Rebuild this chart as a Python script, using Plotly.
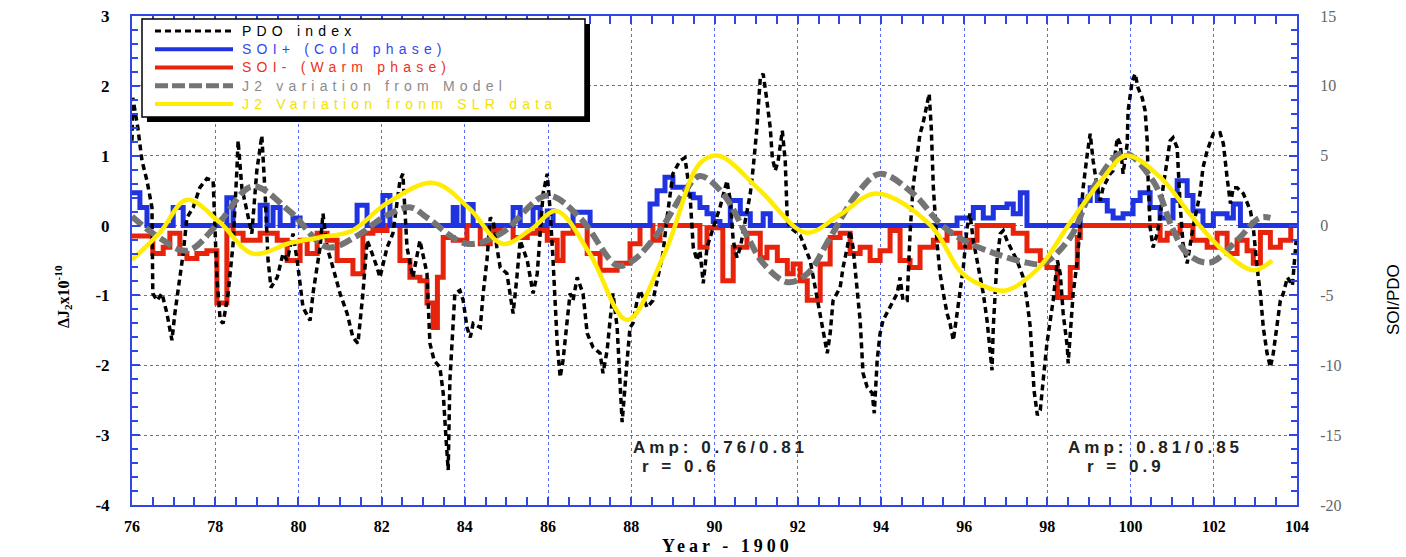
import plotly.graph_objects as go

# ---------------- data ----------------
# PDO index (SOI/PDO axis units)
pdo_year = [76.00, 76.02, 76.14, 76.24, 76.36, 76.48, 76.50, 76.60, 76.72, 76.84, 76.96, 77.03, 77.15, 77.23,
            77.32, 77.47, 77.63, 77.80, 77.95, 78.04, 78.12, 78.19, 78.31, 78.43, 78.52, 78.55, 78.64, 78.76,
            78.88, 79.00, 79.12, 79.20, 79.27, 79.34, 79.49, 79.63, 79.73, 79.87, 79.97, 80.11, 80.28, 80.35,
            80.52, 80.59, 80.69, 80.83, 81.00, 81.17, 81.31, 81.43, 81.55, 81.65, 81.72, 81.89, 81.96, 82.13,
            82.27, 82.44, 82.51, 82.61, 82.75, 82.92, 83.09, 83.16, 83.26, 83.40, 83.48, 83.55, 83.60, 83.64,
            83.72, 83.76, 83.88, 83.96, 84.05, 84.13, 84.20, 84.37, 84.44, 84.53, 84.61, 84.68, 84.77, 84.85,
            85.01, 85.09, 85.16, 85.25, 85.33, 85.50, 85.64, 85.74, 85.81, 85.88, 85.98, 86.05, 86.12, 86.22,
            86.29, 86.36, 86.46, 86.53, 86.60, 86.70, 86.84, 86.94, 87.08, 87.25, 87.32, 87.42, 87.49, 87.56,
            87.66, 87.73, 87.78, 87.90, 87.97, 88.04, 88.14, 88.21, 88.38, 88.52, 88.76, 88.86, 89.00, 89.17,
            89.29, 89.41, 89.49, 89.58, 89.65, 89.73, 89.82, 89.97, 90.13, 90.30, 90.38, 90.45, 90.54, 90.62,
            90.78, 90.86, 90.93, 91.02, 91.10, 91.17, 91.26, 91.34, 91.39, 91.46, 91.53, 91.63, 91.70, 91.75,
            91.82, 92.06, 92.30, 92.47, 92.54, 92.71, 92.78, 92.85, 93.02, 93.09, 93.19, 93.26, 93.33, 93.43,
            93.50, 93.57, 93.67, 93.79, 93.84, 93.91, 93.98, 94.05, 94.22, 94.39, 94.46, 94.53, 94.63, 94.70,
            94.77, 94.87, 94.94, 95.01, 95.11, 95.16, 95.21, 95.26, 95.35, 95.42, 95.50, 95.59, 95.66, 95.74,
            95.83, 95.90, 95.98, 96.07, 96.14, 96.22, 96.34, 96.46, 96.55, 96.62, 96.67, 96.70, 96.75, 96.79,
            96.87, 96.94, 97.03, 97.11, 97.27, 97.42, 97.51, 97.59, 97.64, 97.68, 97.76, 97.83, 97.90, 97.99,
            98.07, 98.14, 98.24, 98.31, 98.38, 98.48, 98.50, 98.55, 98.62, 98.72, 98.79, 98.86, 98.96, 99.03,
            99.10, 99.20, 99.27, 99.34, 99.51, 99.58, 99.68, 99.75, 99.82, 99.92, 99.94, 100.04, 100.11, 100.18,
            100.28, 100.35, 100.40, 100.42, 100.47, 100.52, 100.54, 100.64, 100.71, 100.78, 100.88, 100.95,
            101.02, 101.12, 101.19, 101.26, 101.36, 101.50, 101.67, 101.74, 101.84, 101.91, 101.99, 102.15,
            102.23, 102.32, 102.40, 102.47, 102.56, 102.71, 102.80, 102.88, 102.95, 103.04, 103.12, 103.19,
            103.28, 103.36, 103.43, 103.53, 103.60, 103.67, 103.77, 103.89, 103.98]
pdo_value = [6.07, 9.14, 7.0, 4.64, 3.21, 1.29, -4.86, -5.36, -4.86, -6.29, -8.21, -6.29, -3.71, -2.0,
             0.57, 1.29, 2.71, 3.36, 3.21, -3.71, -6.79, -7.0, -4.86, -1.29, 3.93, 6.07, 2.71, 1.07,
             -0.57, 3.93, 6.43, 2.29, -2.5, -4.43, -3.71, -2.0, -2.5, -0.57, -2.5, -5.86, -6.79, -4.86,
             -1.57, 0.86, -1.57, -3.0, -4.86, -6.29, -8.0, -8.43, -4.86, -1.07, -1.57, -3.0, -3.71, -1.57,
             -0.57, 3.21, 3.71, -1.57, -3.71, -1.07, -3.43, -8.43, -9.64, -10.14, -12.0, -15.36, -17.5, -11.07,
             -7.29, -4.86, -4.64, -5.36, -7.29, -8.0, -7.0, -7.29, -4.86, -2.5, 0.57, 0.36, -1.57, -3.0,
             -3.43, -4.86, -6.29, -3.71, -1.07, -2.5, -4.86, -3.43, -0.14, 2.29, 3.71, 1.07, -2.5, -8.43,
             -10.86, -9.64, -6.79, -4.86, -5.36, -3.71, -4.86, -7.71, -8.71, -9.14, -10.57, -8.93, -6.79, -4.86,
             -7.29, -12.0, -14.07, -9.64, -7.29, -7.0, -5.36, -4.64, -5.86, -5.36, -2.0, 0.57, 3.71, 4.64,
             4.86, 2.29, -1.57, -2.5, -1.79, -4.14, -1.57, -0.14, 1.29, 3.21, 1.79, -1.07, -2.29, -1.57,
             1.07, 2.29, 4.14, 7.0, 10.57, 10.86, 8.93, 7.0, 4.86, 3.93, 4.64, 6.79, 4.64, 0.36,
             -0.14, -0.71, -2.5, -5.36, -6.29, -9.14, -7.71, -5.36, -4.43, -3.0, -1.57, -0.36, -1.57, -4.43,
             -6.79, -10.57, -11.57, -12.0, -13.43, -9.64, -7.71, -6.79, -5.86, -4.86, -3.71, -5.36, -5.36, -0.57,
             2.71, 5.14, 6.57, 7.29, 8.71, 9.43, 7.0, 2.71, -1.29, -3.43, -4.86, -6.29, -7.0, -8.21,
             -6.29, -4.86, -3.0, -0.14, 0.86, -1.07, -3.0, -4.86, -6.79, -9.14, -10.36, -7.29, -4.86, -2.5,
             -0.57, -0.36, -1.07, -1.57, -2.5, -3.71, -5.36, -7.29, -9.64, -11.79, -13.57, -13.21, -11.07, -8.43,
             -6.79, -5.36, -2.5, -3.43, -6.29, -8.71, -9.86, -7.71, -4.86, -2.5, 0.36, 2.71, 5.14, 6.57,
             4.64, 2.71, 1.79, 2.71, 3.71, 3.93, 6.29, 5.86, 3.71, 5.86, 8.21, 10.36, 10.86, 9.86,
             9.14, 8.21, 6.07, 3.43, -0.14, -1.07, -1.57, -0.57, 0.57, 2.71, 4.64, 6.07,
             6.29, 5.57, 1.57, -1.29, -2.71, -0.14, 2.29, 4.14, 5.36, 5.86, 6.57, 6.64,
             5.86, 3.43, 1.57, 2.71, 2.71, 2.29, 1.57, 1.07, -0.14, -3.0, -4.86, -7.29,
             -9.14, -10.14, -9.14, -6.79, -5.36, -4.86, -3.71, -4.29, -1.07]

# SOI+ (cold phase), step series (SOI/PDO axis units)
soi_pos_year = [76.00, 76.19, 76.36, 76.99, 77.23, 78.28, 78.43, 79.08, 79.25, 79.39, 79.56, 79.87, 80.04,
                81.41, 81.65, 82.03, 82.20, 83.72, 83.81, 83.96, 84.20, 85.16, 85.33, 85.64, 85.81, 85.98,
                86.12, 86.60, 87.01, 88.45, 88.62, 88.81, 89.00, 89.34, 89.49, 89.65, 89.82, 89.97, 90.13,
                90.38, 90.62, 90.86, 91.17, 91.34, 95.83, 96.22, 96.46, 96.70, 97.03, 97.18, 97.35, 97.51,
                98.79, 99.03, 99.20, 99.44, 99.58, 99.82, 100.06, 100.23, 100.47, 100.71, 101.02, 101.12,
                101.36, 101.50, 101.74, 101.99, 102.32, 102.47, 102.64, 104.00]
soi_pos_value = [2.35, 1.3, 0, 1.3, 0, 2.0, 0, 1.45, 0, 1.3, 0, 0.55, 0,
                 1.45, 0, 2.15, 0, 1.3, 0, 1.5, 0, 1.3, 0, 1.3, 0, 1.05,
                 0, 0.95, 0, 1.55, 2.5, 3.45, 2.75, 2.25, 2.0, 1.3, 0.85, 0.3, 0,
                 1.8, 0.85, 0, 0.85, 0, 0.55, 1.3, 0.55, 1.3, 1.55, 0.85, 2.35, 0,
                 1.8, 2.7, 1.8, 1.05, 0.55, 0.85, 1.8, 2.35, 1.3, 0.55, 1.8, 3.2,
                 2.15, 1.05, 0, 0.85, 0.55, 1.55, 0, 0]

# SOI- (warm phase), step series (SOI/PDO axis units)
soi_neg_year = [76.00, 76.50, 76.75, 76.91, 77.15, 77.32, 77.56, 77.80, 78.04, 78.28, 78.43, 78.67, 79.08,
                79.49, 79.73, 80.04, 80.21, 80.45, 80.69, 80.93, 81.31, 81.55, 81.79, 82.13, 82.44, 82.68,
                82.92, 83.09, 83.24, 83.34, 83.48, 83.72, 84.05, 84.37, 84.61, 84.85, 85.16, 85.50, 85.74,
                85.98, 86.22, 86.36, 86.60, 86.94, 87.25, 87.66, 87.97, 88.21, 88.52, 88.69, 89.65, 89.82,
                90.20, 90.45, 90.78, 91.10, 91.26, 91.51, 91.75, 91.89, 92.06, 92.23, 92.54, 92.78, 93.02,
                93.26, 93.50, 93.74, 93.98, 94.22, 94.46, 94.70, 94.94, 95.26, 95.59, 95.90, 96.14, 96.31,
                97.18, 97.51, 97.83, 97.99, 98.24, 98.55, 98.72, 98.79, 100.71, 100.88, 101.19, 101.50,
                101.84, 102.08, 102.32, 102.56, 102.80, 102.95, 103.12, 103.36, 103.60, 103.85, 104.00]
soi_neg_value = [-0.75, -2.0, -1.55, -0.55, -2.0, -2.35, -2.0, -1.8, -5.55, 0, -0.55, -1.05, -0.55,
                 -1.05, -2.5, -1.05, -2.0, -0.55, -1.05, -2.5, -3.45, -0.55, -0.35, 0, -2.5, -3.7,
                 -3.95, -5.55, -7.3, -3.7, -0.85, -1.05, 0, -1.3, -0.35, 0, -0.85, -0.55, -0.35,
                 -1.05, -2.5, -0.55, 0, -2.0, -3.2, -2.7, -1.3, 0, -1.05, 0, -1.55, -0.15,
                 -3.95, -1.55, -0.55, -2.3, -1.55, -2.5, -3.45, -2.75, -3.95, -5.35, -2.75, -0.85, -0.55,
                 -2.0, -1.55, -2.5, -1.8, -0.35, -2.5, -3.0, -1.55, -1.05, -0.55, -1.55, -1.05, 0,
                 -0.55, -1.8, -2.5, -3.0, -5.15, -3.0, -0.85, 0, -1.05, -0.55, 0, -1.05,
                 -1.55, -0.55, -2.0, -1.05, -1.8, -2.7, -0.5, -1.55, -1.05, 0, 0]

# J2 variation from model (ΔJ2 x 1e-10)
model_year = [76.00, 76.60, 77.32, 78.10, 78.90, 79.80, 80.70, 81.40, 82.10, 82.70, 83.10, 84.05, 84.85,
              85.98, 86.77, 87.66, 88.04, 88.69, 89.25, 89.65, 90.20, 90.80, 91.17, 91.75, 92.23, 92.78,
              93.43, 93.98, 94.77, 95.42, 95.98, 96.70, 97.50, 97.90, 98.55, 99.10, 99.82, 100.54, 101.00,
              101.36, 101.90, 102.56, 103.10, 103.36]
model_value = [0.13, -0.15, -0.36, 0.05, 0.56, 0.20, -0.31, -0.15, 0.14, 0.26, 0.11, -0.26, -0.12,
               0.43, 0.11, -0.57, -0.50, -0.07, 0.46, 0.71, 0.46, -0.17, -0.54, -0.81, -0.69, -0.17,
               0.46, 0.74, 0.46, 0.03, -0.21, -0.39, -0.53, -0.54, -0.17, 0.54, 1.04, 0.64, -0.03,
               -0.40, -0.53, -0.21, 0.11, 0.11]

# J2 variation from SLR data (ΔJ2 x 1e-10)
slr_year = [76.00, 76.67, 77.32, 78.10, 78.90, 79.80, 80.50, 81.30, 82.10, 83.24, 84.10, 84.90, 85.60,
            86.20, 87.00, 87.90, 88.80, 89.65, 90.10, 91.10, 92.20, 93.00, 93.90, 95.20, 95.90, 96.30,
            97.00, 97.80, 98.50, 99.30, 99.90, 100.70, 101.50, 102.30, 102.95, 103.40]
slr_value = [-0.49, -0.10, 0.37, 0.05, -0.40, -0.25, -0.17, -0.07, 0.31, 0.61, 0.25, -0.26, -0.05,
             0.21, -0.40, -1.35, -0.40, 0.89, 1.00, 0.50, -0.10, 0.15, 0.46, 0.00, -0.65, -0.82,
             -0.93, -0.60, 0.00, 0.65, 1.00, 0.70, 0.11, -0.40, -0.64, -0.50]

# tick labels
x_ticks = [76, 78, 80, 82, 84, 86, 88, 90, 92, 94, 96, 98, 100, 102, 104]
x_tick_labels = [str(v) for v in x_ticks]
j2_ticks = [-4, -3, -2, -1, 0, 1, 2, 3]
j2_tick_labels = ["-4", "-3", "-2", "-1", "0", "1", "2", "3"]
soi_ticks = [-20, -15, -10, -5, 0, 5, 10, 15]
soi_tick_labels = ["-20", "-15", "-10", "-5", "0", "5", "10", "15"]

series_names = ["PDO index", "SOI+ (Cold phase)", "SOI- (Warm phase)",
                "J2 variation from Model", "J2 Variation fronm SLR data"]

# ---------------- styling ----------------
W, H = 1406, 557
L, R, T, B = 132, 1297, 16, 505
AX = "#2f45e6"
GRID = "#5b6cf0"
C_BLUE = "#1f33e0"
C_RED = "#e8230c"
C_GRAY = "#747474"
C_YEL = "#ffec00"
SERIF = "Liberation Serif"
SANS = "Liberation Sans"


def px(x):
    return (x - L) / (R - L)


def py(y):
    return (B - y) / (B - T)


fig = go.Figure()
fig.add_trace(go.Scatter(x=soi_neg_year, y=soi_neg_value, name=series_names[2], yaxis="y",
                         mode="lines", line=dict(color=C_RED, width=5, shape="hv")))
fig.add_trace(go.Scatter(x=soi_pos_year, y=soi_pos_value, name=series_names[1], yaxis="y",
                         mode="lines", line=dict(color=C_BLUE, width=5, shape="hv")))
fig.add_trace(go.Scatter(x=pdo_year, y=pdo_value, name=series_names[0], yaxis="y",
                         mode="lines", line=dict(color="black", width=3.5, dash="6px,4px")))
fig.add_trace(go.Scatter(x=model_year, y=model_value, name=series_names[3], yaxis="y2",
                         mode="lines", line=dict(color=C_GRAY, width=6, dash="13px,5px",
                                                 shape="spline", smoothing=1.0)))
fig.add_trace(go.Scatter(x=slr_year, y=slr_value, name=series_names[4], yaxis="y2",
                         mode="lines", line=dict(color=C_YEL, width=4.5, shape="spline", smoothing=1.0)))

fig.update_layout(
    width=W, height=H,
    margin=dict(l=L, r=W - R, t=T, b=H - B, autoexpand=False),
    paper_bgcolor="white", plot_bgcolor="white",
    showlegend=False,
    xaxis=dict(range=[76, 104], tickmode="array", tickvals=x_ticks, ticktext=x_tick_labels,
               ticks="inside", ticklen=8, tickwidth=1.5, tickcolor=AX,
               showline=True, linecolor=AX, linewidth=2, mirror="allticks",
               showgrid=True, gridcolor=GRID, griddash="dot", gridwidth=1, zeroline=False,
               tickfont=dict(family=SERIF, size=16, color="black", weight="bold"),
               ticklabelstandoff=6,
               minor=dict(dtick=0.5, tick0=76, ticks="inside", ticklen=5, tickwidth=1.5,
                          tickcolor=AX, showgrid=False)),
    yaxis=dict(range=[-20, 15], tickmode="array", tickvals=soi_ticks, ticktext=soi_tick_labels,
               side="right", ticks="inside", ticklen=8, tickwidth=1.5, tickcolor=AX,
               showline=True, linecolor=AX, linewidth=2,
               showgrid=True, gridcolor=GRID, griddash="dot", gridwidth=1, zeroline=False,
               tickfont=dict(family=SERIF, size=16, color="#666666"),
               ticklabelstandoff=18,
               minor=dict(dtick=1, tick0=0, ticks="inside", ticklen=6, tickwidth=1.5,
                          tickcolor=AX, showgrid=False)),
    yaxis2=dict(range=[-4, 3], tickmode="array", tickvals=j2_ticks, ticktext=j2_tick_labels,
                overlaying="y", side="left", ticks="inside", ticklen=8, tickwidth=1.5, tickcolor=AX,
                showline=True, linecolor=AX, linewidth=2, showgrid=False, zeroline=False,
                tickfont=dict(family=SERIF, size=17, color="black", weight="bold"),
                ticklabelstandoff=17,
                minor=dict(dtick=0.2, tick0=0, ticks="inside", ticklen=6, tickwidth=1.5,
                           tickcolor=AX, showgrid=False)),
)

# ---------------- hand-drawn legend box (with shadow) ----------------
shapes = [
    dict(type="rect", xref="paper", yref="paper", x0=px(147), x1=px(590), y0=py(122), y1=py(24),
         fillcolor="black", line=dict(width=0), layer="above"),
    dict(type="rect", xref="paper", yref="paper", x0=px(142), x1=px(585), y0=py(117), y1=py(19),
         fillcolor="white", line=dict(color="black", width=1.5), layer="above"),
]
rows = [31.1, 49.3, 67.5, 85.7, 103.9]
sample_styles = [dict(color="black", width=3, dash="6px,4px"),
                 dict(color=C_BLUE, width=4),
                 dict(color=C_RED, width=4),
                 dict(color=C_GRAY, width=5, dash="13px,4px"),
                 dict(color=C_YEL, width=4)]
text_colors = ["black", "#3347f0", "#f03020", "#8a8a8a", "#f2e200"]
for r, st in zip(rows, sample_styles):
    shapes.append(dict(type="line", xref="paper", yref="paper", x0=px(155), x1=px(233),
                       y0=py(r), y1=py(r), line=st, layer="above"))
fig.update_layout(shapes=shapes)

legend_text = "<br>".join("<span style='color:%s;letter-spacing:5.2px'>%s</span>" % (c, n)
                          for n, c in zip(series_names, text_colors))
ann = [dict(xref="paper", yref="paper", x=px(240), y=py(67.5), xanchor="left", yanchor="middle",
            align="left", text=legend_text, showarrow=False,
            font=dict(family=SANS, size=14, color="black"))]

# axis titles
ann.append(dict(xref="paper", yref="paper", x=px(63), y=py(297), xanchor="center", yanchor="middle",
                text="ΔJ<sub>2</sub>x10<sup>-10</sup>", textangle=-90, showarrow=False,
                font=dict(family=SERIF, size=16, color="black", weight="bold")))
ann.append(dict(xref="paper", yref="paper", x=px(1393), y=py(300), xanchor="center", yanchor="middle",
                text="SOI/PDO", textangle=-90, showarrow=False,
                font=dict(family=SANS, size=17, color="black")))
ann.append(dict(xref="paper", yref="paper", x=px(727), y=py(557), xanchor="center", yanchor="bottom",
                text="<span style='letter-spacing:4px'>Year - 1900</span>", showarrow=False,
                borderpad=0, font=dict(family=SERIF, size=18, color="black", weight="bold")))

# statistics notes
notes = [(88.0, -3.17, "Amp: 0.76/0.81"), (88.2, -3.45, "r = 0.6"),
         (98.45, -3.17, "Amp: 0.81/0.85"), (98.9, -3.45, "r = 0.9")]
for xv, yv, t in notes:
    ann.append(dict(xref="x", yref="y2", x=xv, y=yv, xanchor="left", yanchor="middle",
                    text="<span style='letter-spacing:4px'>%s</span>" % t, showarrow=False,
                    font=dict(family=SANS, size=17, color="#222222", weight="bold")))
fig.update_layout(annotations=ann)

fig.write_html("out.html")
